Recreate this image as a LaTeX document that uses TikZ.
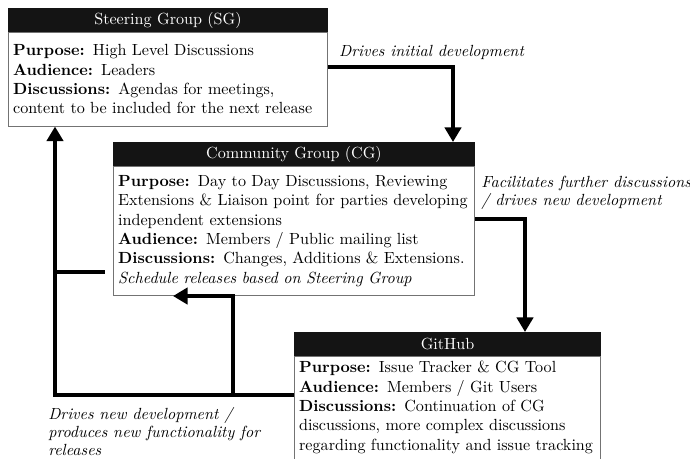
\documentclass[tikz,border=0pt]{standalone}
\usetikzlibrary{positioning,arrows.meta}
\begin{document}
\begin{tikzpicture}[x=0.62pt, y=-0.62pt,
        head/.style={fill=black!92, text=white, anchor=north west, align=center, inner xsep=3pt, inner ysep=1pt, minimum height=14.5pt},
        body/.style={draw=black!55, line width=0.6pt, align=left, inner xsep=3pt, inner ysep=3pt},
        link/.style={line width=3pt},
        flow/.style={link, -{Triangle[width=10pt,length=9pt]}},
        note/.style={font=\fontsize{10}{11.2}\selectfont\itshape, align=left}]
    \useasboundingbox (0,0) rectangle (690,459);

    % steering group
    \node[head, text width=192pt] (sg-head) at (8,8) {Steering Group (SG)};
    \node[body, text width=192pt, minimum height=58pt, below=0pt of sg-head] (sg) {\textbf{Purpose:} High Level Discussions\\ \textbf{Audience:} Leaders\\ \textbf{Discussions:} Agendas for meetings,\\ content to be included for the next release};

    % community group
    \node[head, text width=218pt] (cg-head) at (113,142) {Community Group (CG)};
    \node[body, text width=218pt, minimum height=80pt, below=0pt of cg-head] (cg) {\textbf{Purpose:} Day to Day Discussions, Reviewing\\ Extensions \& Liaison point for parties developing\\ independent extensions\\ \textbf{Audience:} Members / Public mailing list\\ \textbf{Discussions:} Changes, Additions \& Extensions.\\ \textit{Schedule releases based on Steering Group}};

    % github
    \node[head, text width=184pt] (gh-head) at (294,332) {GitHub};
    \node[body, text width=184pt, text depth=60pt, below=0pt of gh-head] (gh) {\textbf{Purpose:} Issue Tracker \& CG Tool\\ \textbf{Audience:} Members / Git Users\\ \textbf{Discussions:} Continuation of CG\\ discussions, more complex discussions\\ regarding functionality and issue tracking};

    \draw[flow] (sg.east |- 0,67) -| (cg-head.north -| 453,0) node[pos=0, note, above right=0pt and 2pt] {Drives initial development};
    \draw[flow] (cg.east |- 0,219) -| (gh-head.north -| 525,0) node[pos=0, note, above right=1pt and -1pt] {Facilitates further discussions\\ / drives new development};
    \draw[flow] (gh.west |- 0,395) -| (sg.south -| 55,0) node[pos=0.5, note, below right=3pt and -9pt] {Drives new development /\\ produces new functionality for\\ releases};
    \coordinate (split) at (233,395);
    \draw[flow] (split) |- (cg.south -| 173,0);
    \draw[link] (cg.west |- 0,272) ++(-8,0) -- (55,272);
\end{tikzpicture}
\end{document}
